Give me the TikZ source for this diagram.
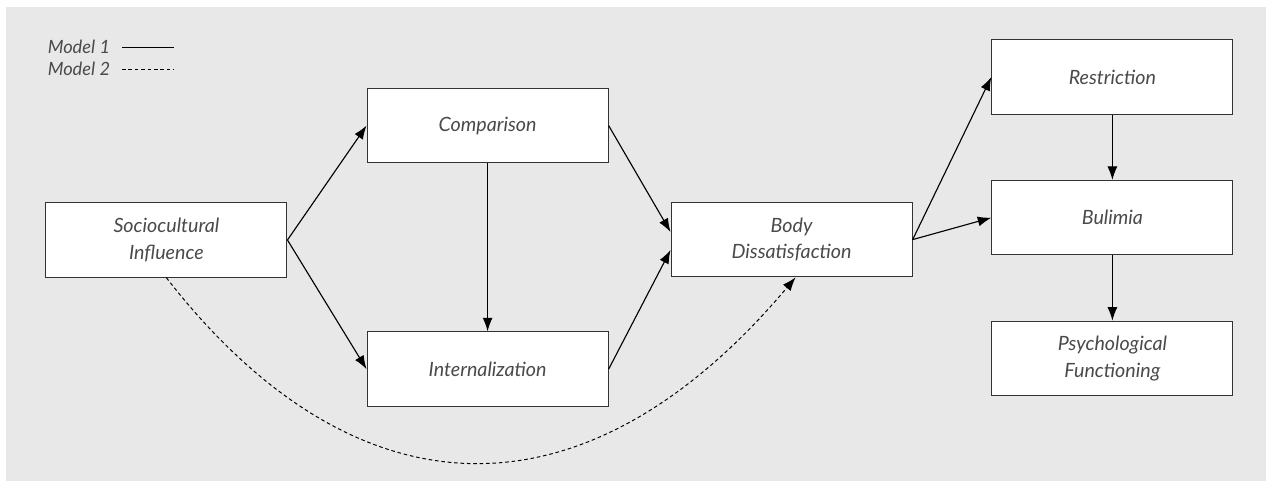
\documentclass[tikz,border=0pt]{standalone}
\usepackage{fontspec}
\setmainfont{Lato}
\usetikzlibrary{positioning,arrows.meta}

\definecolor{panelgrey}{HTML}{E8E8E8}
\definecolor{textgrey}{HTML}{4A4A4A}

\begin{document}
\begin{tikzpicture}[
	line width=0.8pt,
	node distance=1.63cm,
	>={Latex[length=3.4mm,width=2.5mm]},
	model2/.style={dash pattern=on 0.9mm off 0.7mm, line width=0.7pt}]

\tikzstyle{box} = [
    draw = black!80,
    fill = white,
    line width = 0.8pt,
    minimum width = 6.025cm,
    minimum height = 1.86cm,
    inner sep = 0pt,
    align = center,
    text = textgrey,
    font = \fontsize{14}{19}\selectfont\itshape
]
\tikzstyle{legend} = [
    anchor = west,
    inner sep = 0pt,
    text = textgrey,
    font = \fontsize{13}{15}\selectfont\itshape
]

% panel
\useasboundingbox (0,0) rectangle (31.8,12.2);
\fill[panelgrey] (0.15,0.175) rectangle (31.65,12.025);

% legend
\node [legend] (m1) at (1.18,11.02) {Model 1};
\node [legend] (m2) at (1.18,10.47) {Model 2};
\coordinate (m1a) at (3.05,11.02);
\coordinate (m1b) at (4.35,11.02);
\coordinate (m2a) at (3.05,10.47);
\coordinate (m2b) at (4.35,10.47);
\draw (m1a) -- (m1b);
\draw [model2] (m2a) -- (m2b);

% boxes
\node [box] (socio) at (4.16,6.2) {Sociocultural\\Influence};
\node [box] (comp) at (12.19,9.06) {Comparison};
\node [box, below=4.2cm of comp] (intern) {Internalization};
\node [box] (body) at (19.79,6.21) {Body\\Dissatisfaction};
\node [box] (restr) at (27.81,10.275) {Restriction};
\node [box, below=of restr] (bul) {Bulimia};
\node [box, below=of bul] (psych) {Psychological\\Functioning};

% model 1 paths
\draw [->] (socio.east) -- (comp.west);
\draw [->] (socio.east) -- (intern.west);
\draw [->] (comp.south) -- (intern.north);
\draw [->] (comp.east) -- ([yshift=0.19cm]body.west);
\draw [->] (intern.east) -- ([yshift=-0.26cm]body.west);
\draw [->] (body.east) -- (restr.west);
\draw [->] (body.east) -- (bul.west);
\draw [->] (restr.south) -- (bul.north);
\draw [->] (bul.south) -- (psych.north);

% model 2 path
\draw [->, model2] (socio.south) .. controls (8.95,-0.9) and (14.7,-0.9) .. ([xshift=0.1cm]body.south);
\end{tikzpicture}
\end{document}
